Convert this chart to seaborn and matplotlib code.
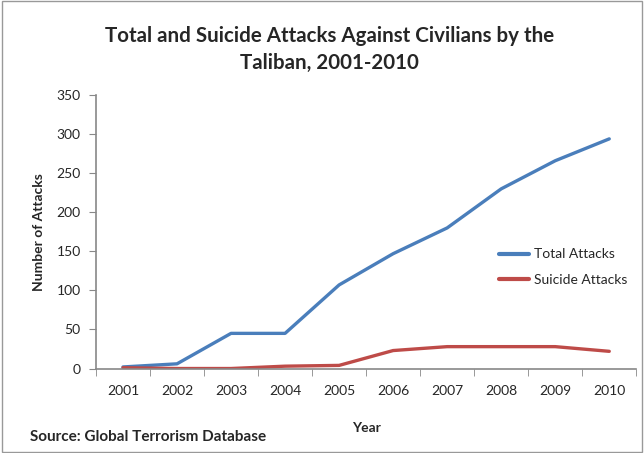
import pandas as pd
import numpy as np
import matplotlib.pyplot as plt
import seaborn as sns
from matplotlib.patches import Rectangle
from matplotlib.ticker import FixedLocator

sns.set_style("ticks")
plt.rcParams['font.family'] = ['Lato', 'DejaVu Sans']

# Data
years = [2001, 2002, 2003, 2004, 2005, 2006, 2007, 2008, 2009, 2010]
total_attacks = [2, 6, 45, 45, 107, 147, 180, 230, 266, 294]
suicide_attacks = [1, 0, 0, 3, 4, 23, 28, 28, 28, 22]
series_names = ['Total Attacks', 'Suicide Attacks']
colors = ['#4A7EBB', '#BE4B48']

df = pd.DataFrame({
    'Year': years * 2,
    'Attacks': total_attacks + suicide_attacks,
    'Series': [series_names[0]] * len(years) + [series_names[1]] * len(years),
})

fig = plt.figure(figsize=(6.44, 4.53), dpi=100)
ax = fig.add_axes([0.149, 0.1865, 0.839, 0.6035])

sns.lineplot(data=df, x='Year', y='Attacks', hue='Series', palette=colors,
             linewidth=2.4, ax=ax, legend=True)

ax.set_xlim(years[0] - 0.5, years[-1] + 0.5)
ax.set_ylim(0, 350)
ax.set_yticks(np.arange(0, 351, 50))
ax.set_xticks(years)
ax.set_xticklabels([str(y) for y in years], fontsize=10)
ax.tick_params(axis='x', which='major', length=0, pad=12)
ax.xaxis.set_minor_locator(FixedLocator(np.arange(years[0] - 0.5, years[-1] + 1, 1)))
ax.tick_params(axis='x', which='minor', length=5, color='#888888', direction='out')
ax.tick_params(axis='y', length=5, color='#888888', labelsize=10, pad=6)

for side in ['top', 'right']:
    ax.spines[side].set_visible(False)
for side in ['left', 'bottom']:
    ax.spines[side].set_color('#888888')
    ax.spines[side].set_linewidth(1.2)

ax.set_xlabel('Year', fontsize=10, fontweight='bold', labelpad=18)
ax.set_ylabel('Number of Attacks', fontsize=10, fontweight='bold', labelpad=8)

leg = ax.legend(loc='center left', bbox_to_anchor=(0.722, 0.37), frameon=False,
                fontsize=10, handlelength=2.2, handletextpad=0.35, labelspacing=1.0)
for line in leg.get_lines():
    line.set_linewidth(3)

fig.text(0.512, 0.92, 'Total and Suicide Attacks Against Civilians by the',
         ha='center', va='center', fontsize=14.8, fontweight='bold')
fig.text(0.512, 0.86, 'Taliban, 2001-2010',
         ha='center', va='center', fontsize=14.8, fontweight='bold')
fig.text(0.047, 0.035, 'Source: Global Terrorism Database',
         ha='left', va='center', fontsize=11, fontweight='bold')

fig.patches.append(Rectangle((0.003, 0.003), 0.994, 0.994, transform=fig.transFigure,
                             fill=False, edgecolor='#999999', linewidth=1))

plt.savefig('out.png', dpi=100)
